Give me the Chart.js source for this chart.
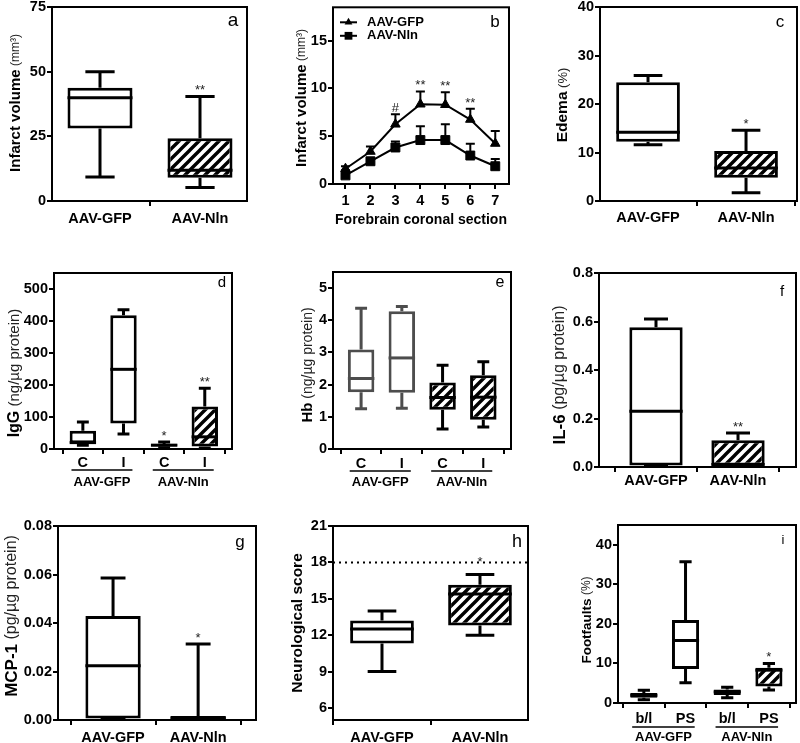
<!DOCTYPE html>
<html>
<head>
<meta charset="utf-8">
<script src="https://cdn.jsdelivr.net/npm/chart.js@4/dist/chart.umd.min.js"></script>
<style>
  html, body { margin: 0; background: #fff; }
  #fig { position: relative; width: 800px; height: 743px; overflow: hidden; }
  #fig canvas { position: absolute; }
</style>
</head>
<body>
<div id="fig"></div>
<script>
// box = [min, q1, median, q3, max]
const aLabels = ['AAV-GFP', 'AAV-Nln'];
const aBoxes = [[9.3, 28, 39.9, 43.8, 50], [5.2, 9, 11.9, 24.3, 40.4]];
const aStars = ['', '**'];
const aTicks = [0, 25, 50, 75];

const bSections = [1, 2, 3, 4, 5, 6, 7];
const bGfp = [1.6, 3.4, 6.25, 8.35, 8.3, 6.75, 4.24];
const bGfpErr = [0.27, 0.52, 1.05, 1.34, 1.3, 1.12, 1.31];
const bNln = [0.9, 2.38, 3.82, 4.6, 4.6, 2.98, 1.86];
const bNlnErr = [0.55, 0.3, 0.62, 1.45, 1.66, 1.24, 0.76];
const bMarks = ['', '', '#', '**', '**', '**', ''];
const bTicks = [0, 5, 10, 15];

const cLabels = ['AAV-GFP', 'AAV-Nln'];
const cBoxes = [[11.6, 12.2, 14.2, 24.5, 25.9], [1.7, 4.8, 6.8, 10.3, 14.6]];
const cStars = ['', '*'];
const cTicks = [0, 10, 20, 30, 40];

const dLabels = ['C', 'I', 'C', 'I'];
const dGroups = ['AAV-GFP', 'AAV-Nln'];
const dBoxes = [[12, 18, 20, 57, 84], [47, 80, 249, 418, 435], [4, 8, 12, 16, 22], [3, 8, 38, 133, 190]];
const dStars = ['', '', '*', '**'];
const dTicks = [0, 100, 200, 300, 400, 500];

const eLabels = ['C', 'I', 'C', 'I'];
const eGroups = ['AAV-GFP', 'AAV-Nln'];
const eBoxes = [[1.25, 1.76, 2.19, 3.09, 4.37], [1.27, 1.75, 2.83, 4.28, 4.43], [0.62, 1.22, 1.6, 2.07, 2.6], [0.68, 0.91, 1.61, 2.29, 2.71]];
const eTicks = [0, 1, 2, 3, 4, 5];

const fLabels = ['AAV-GFP', 'AAV-Nln'];
const fBoxes = [[0.004, 0.006, 0.23, 0.576, 0.61], [0.004, 0.006, 0.01, 0.11, 0.14]];
const fStars = ['', '**'];
const fTicks = [0, 0.2, 0.4, 0.6, 0.8];

const gLabels = ['AAV-GFP', 'AAV-Nln'];
const gBoxes = [[0.0005, 0.0006, 0.0224, 0.0429, 0.0586], [0.0003, 0.0004, 0.0008, 0.0016, 0.0313]];
const gStars = ['', '*'];
const gTicks = [0, 0.02, 0.04, 0.06, 0.08];

const hLabels = ['AAV-GFP', 'AAV-Nln'];
const hBoxes = [[9, 11.3, 12.5, 13.2, 14], [12, 12.8, 15.4, 16.15, 17]];
const hStars = ['', '*'];
const hRef = 18;
const hTicks = [6, 9, 12, 15, 18, 21];

const iLabels = ['b/l', 'PS', 'b/l', 'PS'];
const iGroups = ['AAV-GFP', 'AAV-Nln'];
const iBoxes = [[0.8, 1.3, 1.95, 2.5, 3.2], [5.1, 8.6, 15.8, 21, 35.7], [1.3, 2.0, 2.8, 3.4, 4.0], [3.3, 4.15, 8.3, 8.9, 10]];
const iStars = ['', '', '', '*'];
const iTicks = [0, 10, 20, 30, 40];

const FONT = '"Liberation Sans", Arial, Helvetica, sans-serif';
Chart.defaults.font.family = FONT;
Chart.defaults.color = '#000';
const GRID = { drawOnChartArea: false, drawTicks: true, tickLength: 5, color: '#000', lineWidth: 2 };

function makeCanvas(x, y, w, h) {
  const c = document.createElement('canvas');
  c.width = w; c.height = h;
  c.style.left = x + 'px'; c.style.top = y + 'px';
  c.style.width = w + 'px'; c.style.height = h + 'px';
  document.getElementById('fig').appendChild(c);
  return c;
}

function hatch(ctx) {
  const s = 10, t = document.createElement('canvas');
  t.width = t.height = s;
  const g = t.getContext('2d');
  g.fillStyle = '#fff'; g.fillRect(0, 0, s, s);
  g.strokeStyle = '#000'; g.lineWidth = 3.4;
  g.beginPath();
  g.moveTo(-1, s + 1); g.lineTo(s + 1, -1);
  g.moveTo(-s / 2 - 1, s / 2 + 1); g.lineTo(s / 2 + 1, -s / 2 - 1);
  g.moveTo(s / 2 - 1, 1.5 * s + 1); g.lineTo(1.5 * s + 1, s / 2 - 1);
  g.stroke();
  return ctx.createPattern(t, 'repeat');
}

function marker(ctx, style, x, y, r) {
  ctx.beginPath();
  if (style === 'triangle') {
    ctx.moveTo(x, y - r); ctx.lineTo(x + r * 0.866, y + r / 2); ctx.lineTo(x - r * 0.866, y + r / 2);
    ctx.closePath();
  } else {
    const s = r * Math.SQRT1_2;
    ctx.rect(x - s, y - s, 2 * s, 2 * s);
  }
  ctx.fill();
}

function drawTitle(ctx, t) {
  ctx.save();
  ctx.translate(t.x, t.y);
  ctx.rotate(-Math.PI / 2);
  ctx.textBaseline = 'middle'; ctx.textAlign = 'left';
  const fb = `bold ${t.bs}px ${FONT}`, fn = `${t.ns}px ${FONT}`;
  ctx.font = fb; const wb = ctx.measureText(t.bold).width;
  ctx.font = fn; const wn = t.normal ? ctx.measureText(' ' + t.normal).width : 0;
  const x0 = -(wb + wn) / 2;
  ctx.fillStyle = '#000'; ctx.font = fb; ctx.fillText(t.bold, x0, 0);
  if (t.normal) { ctx.fillStyle = '#222'; ctx.font = fn; ctx.fillText(' ' + t.normal, x0 + wb, 0); }
  ctx.restore();
}

// whiskers, medians, frame, titles and other annotations
const decor = {
  id: 'decor',
  beforeDatasetsDraw(chart, args, o) {
    const ctx = chart.ctx, xs = chart.scales.x, ys = chart.scales.y;
    ctx.save();
    ctx.lineWidth = o.lw || 3;
    if (o.boxes) {
      const meta = chart.getDatasetMeta(0);
      o.boxes.forEach((b, i) => {
        const px = xs.getPixelForValue(i + 1), cap = meta.data[i].width * 0.225;
        ctx.strokeStyle = o.edges[i];
        ctx.beginPath();
        [[b[3], b[4]], [b[1], b[0]]].forEach(([from, to]) => {
          const p0 = ys.getPixelForValue(from), p1 = ys.getPixelForValue(to);
          ctx.moveTo(px, p0); ctx.lineTo(px, p1);
          ctx.moveTo(px - cap, p1); ctx.lineTo(px + cap, p1);
        });
        ctx.stroke();
      });
    }
    if (o.errors) {
      ctx.strokeStyle = '#000'; ctx.lineWidth = 2;
      o.errors.forEach((errs, d) => {
        const pts = chart.data.datasets[d].data;
        errs.forEach((e, i) => {
          const px = xs.getPixelForValue(pts[i].x);
          const p0 = ys.getPixelForValue(pts[i].y), p1 = ys.getPixelForValue(pts[i].y + e);
          ctx.beginPath();
          ctx.moveTo(px, p0); ctx.lineTo(px, p1);
          ctx.moveTo(px - 4.5, p1); ctx.lineTo(px + 4.5, p1);
          ctx.stroke();
        });
      });
    }
    ctx.restore();
  },
  afterDraw(chart, args, o) {
    const ctx = chart.ctx, xs = chart.scales.x, ys = chart.scales.y, a = chart.chartArea;
    ctx.save();
    if (o.boxes) {
      const meta = chart.getDatasetMeta(0);
      ctx.lineWidth = o.lw || 3;
      o.boxes.forEach((b, i) => {
        const px = xs.getPixelForValue(i + 1), hw = meta.data[i].width / 2;
        const py = ys.getPixelForValue(b[2]);
        ctx.strokeStyle = o.edges[i];
        ctx.beginPath(); ctx.moveTo(px - hw, py); ctx.lineTo(px + hw, py); ctx.stroke();
      });
    }
    if (o.ref != null) {
      const py = ys.getPixelForValue(o.ref);
      ctx.strokeStyle = '#000'; ctx.lineWidth = 2; ctx.setLineDash([2, 4]);
      ctx.beginPath(); ctx.moveTo(a.left, py); ctx.lineTo(a.right, py); ctx.stroke();
      ctx.setLineDash([]);
    }
    // frame
    ctx.strokeStyle = '#000'; ctx.lineWidth = 2;
    ctx.strokeRect(a.left, a.top, a.right - a.left, a.bottom - a.top);
    // significance marks
    ctx.fillStyle = '#222'; ctx.textAlign = 'center'; ctx.textBaseline = 'alphabetic';
    ctx.font = `13px ${FONT}`;
    if (o.stars) {
      o.stars.forEach((s, i) => {
        if (!s) return;
        const b = o.boxes[i];
        let py = ys.getPixelForValue(b[4]) - 2;
        if (o.ref != null) py = Math.min(py, ys.getPixelForValue(o.ref) + 4);
        ctx.fillText(s, xs.getPixelForValue(i + 1), py);
      });
    }
    if (o.marks) {
      const pts = chart.data.datasets[0].data;
      o.marks.forEach((s, i) => {
        if (!s) return;
        const py = ys.getPixelForValue(pts[i].y + o.errors[0][i]) - 2;
        ctx.fillText(s, xs.getPixelForValue(pts[i].x), py);
      });
    }
    // panel letter
    if (o.letter) {
      ctx.fillStyle = '#000'; ctx.textBaseline = 'middle';
      ctx.font = `${o.letter.size}px ${FONT}`;
      ctx.fillText(o.letter.text, o.letter.x, o.letter.y);
    }
    if (o.title) drawTitle(ctx, o.title);
    if (o.xTitle) {
      ctx.fillStyle = '#000'; ctx.textBaseline = 'middle'; ctx.textAlign = 'center';
      ctx.font = `bold 14px ${FONT}`;
      ctx.fillText(o.xTitle.text, (a.left + a.right) / 2, o.xTitle.y);
    }
    if (o.groups) {
      const sp = xs.getPixelForValue(2) - xs.getPixelForValue(1);
      ctx.font = `bold 13px ${FONT}`; ctx.textBaseline = 'middle'; ctx.textAlign = 'center';
      o.groups.forEach((g, k) => {
        const x0 = xs.getPixelForValue(2 * k + 1) - sp * 0.28, x1 = xs.getPixelForValue(2 * k + 2) + sp * 0.22;
        ctx.strokeStyle = '#000'; ctx.lineWidth = 1.5;
        ctx.beginPath(); ctx.moveTo(x0, a.bottom + o.groupLine); ctx.lineTo(x1, a.bottom + o.groupLine); ctx.stroke();
        ctx.fillStyle = '#000';
        ctx.fillText(g, (x0 + x1) / 2, a.bottom + o.groupText);
      });
    }
    if (o.legend) {
      ctx.font = `bold 13px ${FONT}`; ctx.textAlign = 'left'; ctx.textBaseline = 'middle';
      chart.data.datasets.forEach((ds, k) => {
        const y0 = a.top + 15 + k * 13.5;
        ctx.strokeStyle = '#000'; ctx.fillStyle = '#000'; ctx.lineWidth = 2;
        ctx.beginPath(); ctx.moveTo(a.left + 7, y0); ctx.lineTo(a.left + 24, y0); ctx.stroke();
        marker(ctx, ds.pointStyle, a.left + 15.5, y0, ds.pointStyle === 'triangle' ? 4.5 : 5.5);
        ctx.fillText(ds.label, a.left + 34, y0);
      });
    }
    ctx.restore();
  }
};

function axes(p, cx, cy, cw, ch) {
  const [L, T, R, B] = p.frame;
  return {
    x: {
      type: 'linear', min: p.xRange[0], max: p.xRange[1], offset: false,
      afterFit: s => { s.height = cy + ch - B; s.paddingLeft = 0; s.paddingRight = 0; },
      afterBuildTicks: s => { s.ticks = p.xTicks.map(v => ({ value: v })); },
      ticks: { callback: (v, i) => p.xLabels[i], font: { size: 14.5, weight: 'bold' }, padding: p.xPad, autoSkip: false, maxRotation: 0 },
      grid: GRID, border: { display: false }
    },
    y: {
      type: 'linear', min: p.yRange[0], max: p.yRange[1],
      afterFit: s => { s.width = L - cx; s.paddingTop = 0; s.paddingBottom = 0; },
      afterBuildTicks: s => { s.ticks = p.ticks.map(v => ({ value: v })); },
      ticks: { callback: v => v.toFixed(p.dec), font: { size: 14.5, weight: 'bold' }, padding: 1 },
      grid: GRID, border: { display: false }
    }
  };
}

function local(p, cx, cy) {
  const t = p.title;
  return {
    title: { bold: t[0], normal: t[1], bs: t[2], ns: t[3], x: t[4] - cx, y: t[5] - cy },
    letter: { text: p.letter[0], x: p.letter[1] - cx, y: p.letter[2] - cy, size: p.letter[3] }
  };
}

function boxPanel(p) {
  const [cx, cy, cw, ch] = p.canvas;
  const [L, T, R, B] = p.frame;
  const cv = makeCanvas(cx, cy, cw, ch);
  const pat = hatch(cv.getContext('2d'));
  const edges = p.edges || p.boxes.map(() => '#000');
  p.xTicks = p.labels.map((_, i) => i + 1);
  p.xLabels = p.labels;
  return new Chart(cv, {
    type: 'bar',
    data: {
      datasets: [{
        data: p.boxes.map((b, i) => ({ x: i + 1, y: [b[1], b[3]] })),
        backgroundColor: p.fills.map(f => f === 'hatch' ? pat : '#fff'),
        borderColor: edges,
        borderWidth: 3, borderSkipped: false,
        barPercentage: 0.65, categoryPercentage: 1
      }]
    },
    options: {
      responsive: false, animation: false, events: [],
      layout: { padding: { left: 0, top: T - cy, right: cx + cw - R, bottom: 0 } },
      plugins: {
        legend: { display: false }, tooltip: { enabled: false },
        decor: Object.assign({
          boxes: p.boxes, edges, stars: p.stars, ref: p.ref,
          groups: p.groups, groupLine: p.groupLine, groupText: p.groupText
        }, local(p, cx, cy))
      },
      scales: axes(p, cx, cy, cw, ch)
    },
    plugins: [decor]
  });
}

// a
boxPanel({ canvas: [0, 0, 267, 245], frame: [52, 7, 247, 201], labels: aLabels, boxes: aBoxes, stars: aStars,
  ticks: aTicks, dec: 0, xRange: [0.52, 2.47], yRange: [0, 75], fills: ['open', 'hatch'], xPad: 4,
  title: ['Infarct volume', '(mm³)', 15, 12, 16, 103], letter: ['a', 233, 21, 19] });

// b
(function () {
  const [cx, cy, cw, ch] = [267, 0, 268, 245];
  const p = { frame: [333, 5, 509, 184], xRange: [0.5, 7.55], yRange: [0, 18.5], ticks: bTicks, dec: 0, xPad: 3,
    xTicks: bSections, xLabels: bSections.map(String),
    title: ['Infarct volume', '(mm³)', 15, 12, 302, 98], letter: ['b', 495, 22, 17] };
  const [L, T, R, B] = p.frame;
  const cv = makeCanvas(cx, cy, cw, ch);
  const line = (label, vals, style, r) => ({
    label, data: bSections.map((s, i) => ({ x: s, y: vals[i] })),
    borderColor: '#000', backgroundColor: '#000', borderWidth: 2,
    pointStyle: style, pointRadius: r, pointBorderWidth: 1, tension: 0
  });
  new Chart(cv, {
    type: 'line',
    data: { datasets: [line('AAV-GFP', bGfp, 'triangle', 5.5), line('AAV-Nln', bNln, 'rect', 6.3)] },
    options: {
      responsive: false, animation: false, events: [],
      layout: { padding: { left: 0, top: T - cy, right: cx + cw - R, bottom: 0 } },
      plugins: {
        legend: { display: false }, tooltip: { enabled: false },
        decor: Object.assign({ errors: [bGfpErr, bNlnErr], marks: bMarks, legend: true,
          xTitle: { text: 'Forebrain coronal section', y: 220 - cy } }, local(p, cx, cy))
      },
      scales: axes(p, cx, cy, cw, ch)
    },
    plugins: [decor]
  });
})();

// c
boxPanel({ canvas: [535, 0, 265, 245], frame: [600, 7, 797, 201], labels: cLabels, boxes: cBoxes, stars: cStars,
  ticks: cTicks, dec: 0, xRange: [0.51, 2.52], yRange: [0, 40], fills: ['open', 'hatch'], xPad: 3,
  title: ['Edema', '(%)', 15.5, 13, 563, 105], letter: ['c', 780, 22, 17] });

// d
boxPanel({ canvas: [0, 245, 267, 245], frame: [54, 273, 232, 449], labels: dLabels, boxes: dBoxes, stars: dStars,
  ticks: dTicks, dec: 0, xRange: [0.29, 4.67], yRange: [0, 550], fills: ['open', 'open', 'hatch', 'hatch'], xPad: 0,
  groups: dGroups, groupLine: 21, groupText: 33,
  title: ['IgG', '(ng/µg protein)', 16, 15, 15, 373], letter: ['d', 222, 283, 15] });

// e
boxPanel({ canvas: [267, 245, 268, 245], frame: [333, 272, 511, 449], labels: eLabels, boxes: eBoxes, stars: null,
  ticks: eTicks, dec: 0, xRange: [0.31, 4.68], yRange: [0, 5.5], fills: ['open', 'open', 'hatch', 'hatch'], xPad: 1,
  edges: ['#4d4d4d', '#4d4d4d', '#000', '#000'], groups: eGroups, groupLine: 22, groupText: 33,
  title: ['Hb', '(ng/µg protein)', 15, 14, 308, 365], letter: ['e', 500, 283, 16] });

// f
boxPanel({ canvas: [535, 245, 265, 245], frame: [599, 273, 796, 467], labels: fLabels, boxes: fBoxes, stars: fStars,
  ticks: fTicks, dec: 1, xRange: [0.305, 2.707], yRange: [0, 0.8], fills: ['open', 'hatch'], xPad: 0,
  title: ['IL-6', '(pg/µg protein)', 17, 16, 560, 375], letter: ['f', 782, 292, 15] });

// g
boxPanel({ canvas: [0, 490, 267, 253], frame: [58, 526, 256, 720], labels: gLabels, boxes: gBoxes, stars: gStars,
  ticks: gTicks, dec: 2, xRange: [0.353, 2.68], yRange: [0, 0.08], fills: ['open', 'hatch'], xPad: 4,
  title: ['MCP-1', '(pg/µg protein)', 17, 16, 12, 616], letter: ['g', 240, 542, 17] });

// h
boxPanel({ canvas: [267, 490, 268, 253], frame: [333, 526, 528, 720], labels: hLabels, boxes: hBoxes, stars: hStars,
  ticks: hTicks, dec: 0, xRange: [0.5, 2.49], yRange: [5, 21], fills: ['open', 'hatch'], xPad: 4, ref: hRef,
  title: ['Neurological score', '', 15.5, 14, 298, 623], letter: ['h', 517, 542, 18] });

// i
boxPanel({ canvas: [535, 490, 265, 253], frame: [618, 525, 796, 703], labels: iLabels, boxes: iBoxes, stars: iStars,
  ticks: iTicks, dec: 0, xRange: [0.38, 4.65], yRange: [0, 45], fills: ['open', 'open', 'hatch', 'hatch'], xPad: 2,
  groups: iGroups, groupLine: 24, groupText: 34,
  title: ['Footfaults', '(%)', 13.5, 12, 587, 620], letter: ['i', 783, 540, 13] });
</script>
</body>
</html>
